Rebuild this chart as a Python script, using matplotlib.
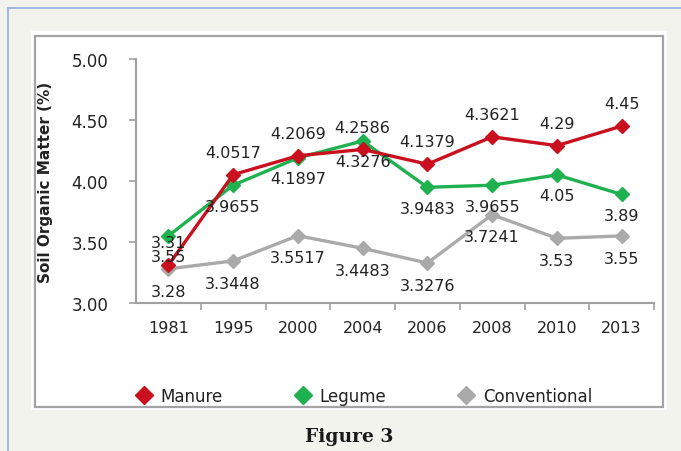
import matplotlib
matplotlib.use("Agg")
import matplotlib.pyplot as plt
from matplotlib.lines import Line2D
from matplotlib.patches import Rectangle

years = ["1981", "1995", "2000", "2004", "2006", "2008", "2010", "2013"]
manure = [3.31, 4.0517, 4.2069, 4.2586, 4.1379, 4.3621, 4.29, 4.45]
legume = [3.55, 3.9655, 4.1897, 4.3276, 3.9483, 3.9655, 4.05, 3.89]
conventional = [3.28, 3.3448, 3.5517, 3.4483, 3.3276, 3.7241, 3.53, 3.55]
yticks = [3.00, 3.50, 4.00, 4.50, 5.00]

RED = "#c8101e"
GREEN = "#1fb050"
GREY = "#aaaaaa"
TXT = "#222222"

W, H = 681, 452
fig = plt.figure(figsize=(W / 100, H / 100), dpi=100, facecolor="#f3f3ee")

def fx(x):
    return x / W

def fy(y):
    return 1 - y / H

# frames
fig.patches.append(Rectangle((fx(31), fy(411)), fx(667) - fx(31), fy(32) - fy(411),
                             transform=fig.transFigure, facecolor="white", edgecolor="none", zorder=-3))
fig.patches.append(Rectangle((fx(35), fy(408)), fx(663) - fx(35), fy(37) - fy(408),
                             transform=fig.transFigure, facecolor="none", edgecolor="#a3a3a3",
                             linewidth=1.6, zorder=-2))
fig.lines.append(Line2D([fx(8), fx(8)], [fy(9), 0], transform=fig.transFigure,
                        color="#8fb0e0", linewidth=1.2, zorder=-2))
fig.lines.append(Line2D([fx(8), 1], [fy(9), fy(9)], transform=fig.transFigure,
                        color="#8fb0e0", linewidth=1.2, zorder=-2))

ax = fig.add_axes([fx(136), fy(304), fx(654) - fx(136), fy(60) - fy(304)])
ax.set_facecolor("none")

x = list(range(len(years)))
lw = 2.4
ms = 7.5
lc = ax.plot(x, conventional, color=GREY, lw=lw, marker="D", ms=ms, zorder=3)[0]
ll = ax.plot(x, legume, color=GREEN, lw=lw, marker="D", ms=ms, zorder=4)[0]
lm = ax.plot(x, manure, color=RED, lw=lw, marker="D", ms=ms, zorder=5)[0]

fs = 11.5
for xi, v in zip(x, manure):
    ax.annotate(f"{v:g}", (xi, v), xytext=(0, 16), textcoords="offset points",
                ha="center", va="center", fontsize=fs, color=TXT, zorder=6)
for xi, v in zip(x, legume):
    ax.annotate(f"{v:g}", (xi, v), xytext=(0, -15), textcoords="offset points",
                ha="center", va="center", fontsize=fs, color=TXT, zorder=6)
for xi, v in zip(x, conventional):
    ax.annotate(f"{v:g}", (xi, v), xytext=(0, -16), textcoords="offset points",
                ha="center", va="center", fontsize=fs, color=TXT, zorder=6)

ax.set_xlim(-0.5, len(years) - 0.5)
ax.set_ylim(3.0, 5.0)
ax.set_yticks(yticks)
ax.set_yticklabels([f"{t:.2f}" for t in yticks], fontsize=12, color=TXT)
ax.tick_params(axis="y", direction="out", length=5, width=1.2, color="#a0a0a0", pad=15)

ax.set_xticks([i + 0.5 for i in x])
ax.set_xticklabels([])
ax.tick_params(axis="x", which="major", direction="out", length=5, width=1.2, color="#a0a0a0")
ax.set_xticks(x, minor=True)
ax.set_xticklabels(years, minor=True, fontsize=11.5, color=TXT)
ax.tick_params(axis="x", which="minor", length=0, pad=12)

for s in ["top", "right"]:
    ax.spines[s].set_visible(False)
for s in ["left", "bottom"]:
    ax.spines[s].set_color("#a0a0a0")
    ax.spines[s].set_linewidth(1.5)

ax.set_ylabel("Soil Organic Matter (%)", fontsize=11, fontweight="bold", color=TXT)
ax.yaxis.set_label_coords((53 - 136) / (654 - 136), 0.5)

handles = [Line2D([], [], color=c, marker="D", ms=9, linestyle="none") for c in (RED, GREEN, GREY)]
fig.legend(handles, ["Manure", "Legume", "Conventional"], loc="center",
           bbox_to_anchor=(fx(364), fy(397)), ncol=3, frameon=False, fontsize=12,
           handlelength=1.0, handletextpad=0.5, columnspacing=4.3, labelcolor=TXT)

fig.text(fx(349), fy(437), "Figure 3", ha="center", va="center", fontsize=13.5,
         fontweight="bold", family="DejaVu Serif", color="#1a1a1a")

fig.savefig("out.png", dpi=100, facecolor=fig.get_facecolor())
